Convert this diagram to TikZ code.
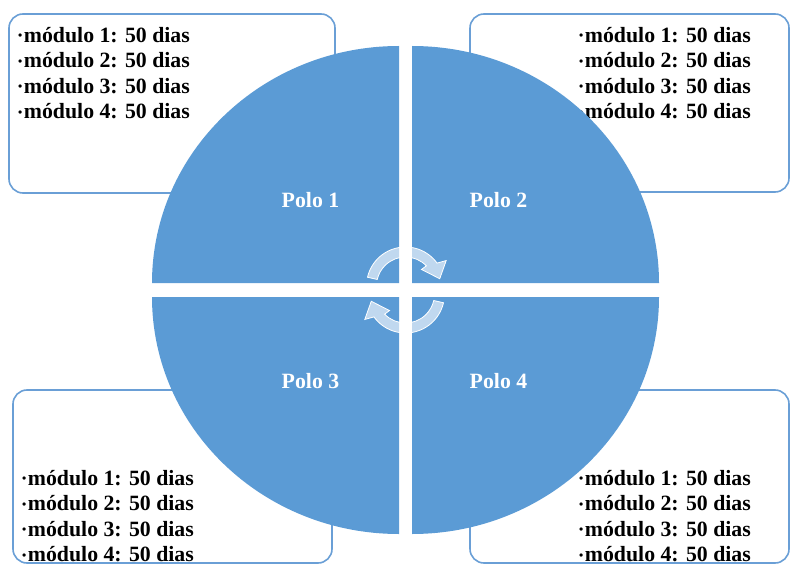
\documentclass[tikz,border=0pt]{standalone}
\usepackage{fontspec}
\setmainfont{Liberation Serif}
\definecolor{quadblue}{HTML}{5B9BD5}
\definecolor{boxblue}{HTML}{6A9FD6}
\newcommand{\bul}{\raisebox{2.5pt}{\fontsize{12}{12}\selectfont\textbullet}\hspace{1.5pt}}
\begin{document}
\begin{tikzpicture}[x=1pt,y=1pt,
  infobox/.style={draw=boxblue, line width=1.6pt, fill=white, rounded corners=14pt},
  quad/.style={fill=quadblue},
  listtext/.style={anchor=north west, inner sep=0pt, align=left, font=\fontsize{21.8}{25.5}\selectfont\bfseries},
  polo/.style={text=white, inner sep=0pt, font=\fontsize{21.8}{24}\selectfont\bfseries},
  cyc/.style={fill=white, fill opacity=0.62, draw=white, line width=0.8pt}]
\useasboundingbox (0,0) rectangle (790,566);

% boxes
\draw[infobox] (9,373) rectangle (335,552);
\draw[infobox] (470,374) rectangle (789,552);
\draw[infobox] (13,3) rectangle (332,176);
\draw[infobox] (470,3) rectangle (789,176);

% box texts
\node[listtext] (t1) at (18,539) {\bul módulo 1: 50 dias\\\bul módulo 2: 50 dias\\\bul módulo 3: 50 dias\\\bul módulo 4: 50 dias};
\node[listtext] (t2) at (579,539) {\bul módulo 1: 50 dias\\\bul módulo 2: 50 dias\\\bul módulo 3: 50 dias\\\bul módulo 4: 50 dias};
\node[listtext] (t3) at (22,96) {\bul módulo 1: 50 dias\\\bul módulo 2: 50 dias\\\bul módulo 3: 50 dias\\\bul módulo 4: 50 dias};
\node[listtext] (t4) at (579,96) {\bul módulo 1: 50 dias\\\bul módulo 2: 50 dias\\\bul módulo 3: 50 dias\\\bul módulo 4: 50 dias};

% quadrants
\fill[quad] (399,283) -- (152,283) arc[start angle=180, end angle=90, x radius=247, y radius=237] -- cycle;
\fill[quad] (412,283) -- (412,520) arc[start angle=90, end angle=0, x radius=247, y radius=237] -- cycle;
\fill[quad] (399,269) -- (152,269) arc[start angle=180, end angle=270, x radius=247, y radius=237] -- cycle;
\fill[quad] (412,269) -- (659,269) arc[start angle=0, end angle=-90, x radius=247, y radius=237] -- cycle;

% labels
\node[polo] (p1) at (310.5,366) {Polo 1};
\node[polo] (p2) at (498.5,366) {Polo 2};
\node[polo] (p3) at (310.5,185) {Polo 3};
\node[polo] (p4) at (498.5,185) {Polo 4};

% cycle arrows
\begin{scope}[shift={(405.5,280)}]
\filldraw[cyc] (167:39) arc[start angle=167, end angle=36, radius=39] -- (32:48) -- (12:35) -- (46:23) -- (44:29) arc[start angle=44, end angle=167, radius=29] -- cycle;
\end{scope}
\begin{scope}[shift={(405.5,272)}, rotate=180]
\filldraw[cyc] (167:39) arc[start angle=167, end angle=36, radius=39] -- (32:48) -- (12:35) -- (46:23) -- (44:29) arc[start angle=44, end angle=167, radius=29] -- cycle;
\end{scope}
\end{tikzpicture}
\end{document}
